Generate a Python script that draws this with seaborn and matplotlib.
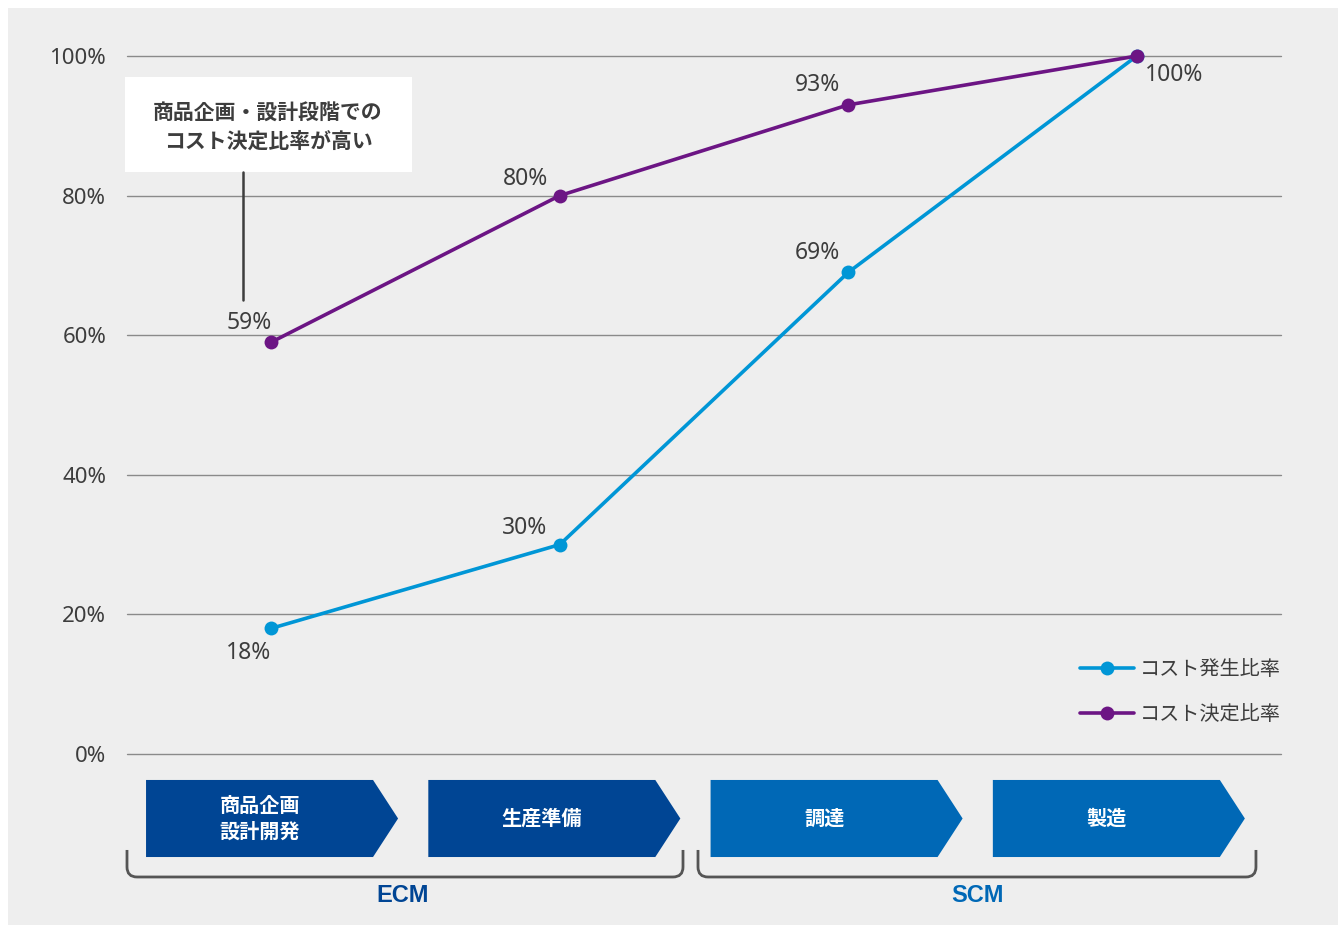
import matplotlib
matplotlib.use("Agg")
import matplotlib.pyplot as plt
import seaborn as sns
import pandas as pd
from matplotlib.patches import Polygon, Rectangle
from matplotlib.path import Path
from matplotlib.patches import PathPatch
from matplotlib.lines import Line2D

# ---- data ----
stages = ["商品企画\n設計開発", "生産準備", "調達", "製造"]
cost_occurrence = [18, 30, 69, 100]     # コスト発生比率
cost_decision = [59, 80, 93, 100]       # コスト決定比率
series_names = ["コスト発生比率", "コスト決定比率"]
yticks = [0, 20, 40, 60, 80, 100]
ytick_labels = ["0%", "20%", "40%", "60%", "80%", "100%"]
groups = ["ECM", "SCM"]
annotation_text = "商品企画・設計段階での\nコスト決定比率が高い"

# ---- style ----
sns.set_style("white")
plt.rcParams["font.family"] = ["Noto Sans CJK JP", "DejaVu Sans"]
NUMFONT = ["Noto Sans", "DejaVu Sans"]
TXT = "#3d3d3d"
BG = "#eeeeee"
BLUE = "#0096d6"
PURPLE = "#6c1584"
DARK = "#004594"
MID = "#0068b6"

df = pd.DataFrame({
    "x": list(range(len(stages))) * 2,
    "value": cost_occurrence + cost_decision,
    "series": [series_names[0]] * len(stages) + [series_names[1]] * len(stages),
})

fig = plt.figure(figsize=(13.38, 9.25), dpi=100)
fig.patch.set_facecolor("white")
fig.patches.append(Rectangle((8 / 1338, 0), 1, 1 - 8 / 925, transform=fig.transFigure,
                             facecolor=BG, edgecolor="none", zorder=-10))
ax = fig.add_axes([127 / 1338, 1 - 754 / 925, 1154 / 1338, 698 / 925])
ax.set_facecolor("none")

palette = {series_names[0]: BLUE, series_names[1]: PURPLE}
sns.lineplot(data=df, x="x", y="value", hue="series", palette=palette, ax=ax,
             marker="o", markersize=10, markeredgewidth=0, linewidth=2.6,
             legend=False, zorder=5)
for ln in ax.lines:
    ln.set_clip_on(False)

ax.set_xlim(-0.5, len(stages) - 0.5)
ax.set_ylim(0, 100)
ax.set_yticks(yticks)
ax.set_yticklabels(ytick_labels, fontsize=16, color=TXT, family=NUMFONT)
ax.set_xticks([])
ax.set_xlabel("")
ax.set_ylabel("")
ax.tick_params(axis="y", length=0, pad=15)
for s in ax.spines.values():
    s.set_visible(False)
ax.grid(axis="y", color="#8a8a8a", linewidth=1.0)
for gl in ax.get_ygridlines():
    gl.set_clip_on(False)
ax.set_axisbelow(True)

# data labels
occ_offsets = [(-16, -18), (-25, 12), (-22, 14), (27, -14)]
dec_offsets = [(-16, 14), (-25, 12), (-22, 14), None]
for i, v in enumerate(cost_occurrence):
    ax.annotate(f"{v}%", (i, v), xytext=occ_offsets[i], textcoords="offset points",
                ha="center", va="center", fontsize=16.5, color=TXT, family=NUMFONT,
                annotation_clip=False)
for i, v in enumerate(cost_decision):
    if dec_offsets[i] is None:
        continue
    ax.annotate(f"{v}%", (i, v), xytext=dec_offsets[i], textcoords="offset points",
                ha="center", va="center", fontsize=16.5, color=TXT, family=NUMFONT,
                annotation_clip=False)

# legend
handles = [Line2D([], [], color=palette[n], marker="o", markersize=10, markeredgewidth=0,
                  linewidth=2.6) for n in series_names]
leg = ax.legend(handles, series_names, loc="upper right", bbox_to_anchor=(1.0, 0.136),
                frameon=False, fontsize=14.5, handlelength=2.7, handletextpad=0.3,
                labelspacing=1.2, borderpad=0, borderaxespad=0)
for t in leg.get_texts():
    t.set_color(TXT)

# annotation box
T = ax.transAxes
ax.add_patch(Rectangle((-0.0017, 0.8338), 0.2487, 0.1362, transform=T,
                       facecolor="white", edgecolor="none", clip_on=False, zorder=6))
ax.text(0.1222, 0.8985, annotation_text, transform=T, ha="center", va="center",
        fontsize=15, fontweight="bold", color=TXT, linespacing=1.4, zorder=7)
ax.add_line(Line2D([0.1005, 0.1005], [0.8338, 0.6504], transform=T, color="#3d3d3d",
                   linewidth=1.8, clip_on=False, zorder=6))

# process arrows
y_top, y_bot = -0.0372, -0.1476
y_mid = (y_top + y_bot) / 2
for i, name in enumerate(stages):
    x0 = 0.0165 + 0.2446 * i
    body = 0.1967
    tip = 0.2184
    col = DARK if i < 2 else MID
    poly = Polygon([(x0, y_top), (x0 + body, y_top), (x0 + tip, y_mid),
                    (x0 + body, y_bot), (x0, y_bot)], closed=True, transform=T,
                   facecolor=col, edgecolor="none", clip_on=False)
    ax.add_patch(poly)
    ax.text(x0 + body / 2, y_mid, name, transform=T, ha="center", va="center",
            fontsize=14.5, fontweight="bold", color="white", linespacing=1.25)

# brackets
def bracket(xa, xb, yt, yb, rx=0.0087, ry=0.0143):
    verts = [(xa, yt), (xa, yb + ry), (xa, yb), (xa + rx, yb),
             (xb - rx, yb), (xb, yb), (xb, yb + ry), (xb, yt)]
    codes = [Path.MOVETO, Path.LINETO, Path.CURVE3, Path.CURVE3,
             Path.LINETO, Path.CURVE3, Path.CURVE3, Path.LINETO]
    ax.add_patch(PathPatch(Path(verts, codes), transform=T, facecolor="none",
                           edgecolor="#555555", linewidth=2.0, clip_on=False))

bracket(0.0, 0.4818, -0.1375, -0.1762)
bracket(0.4948, 0.9783, -0.1375, -0.1762)
ax.text(0.239, -0.2025, groups[0], transform=T, ha="center", va="center",
        fontsize=17, fontweight="bold", color=DARK, family=["Liberation Sans"])
ax.text(0.7366, -0.2025, groups[1], transform=T, ha="center", va="center",
        fontsize=17, fontweight="bold", color=MID, family=["Liberation Sans"])

fig.savefig("out.png", dpi=100, facecolor=fig.get_facecolor())
